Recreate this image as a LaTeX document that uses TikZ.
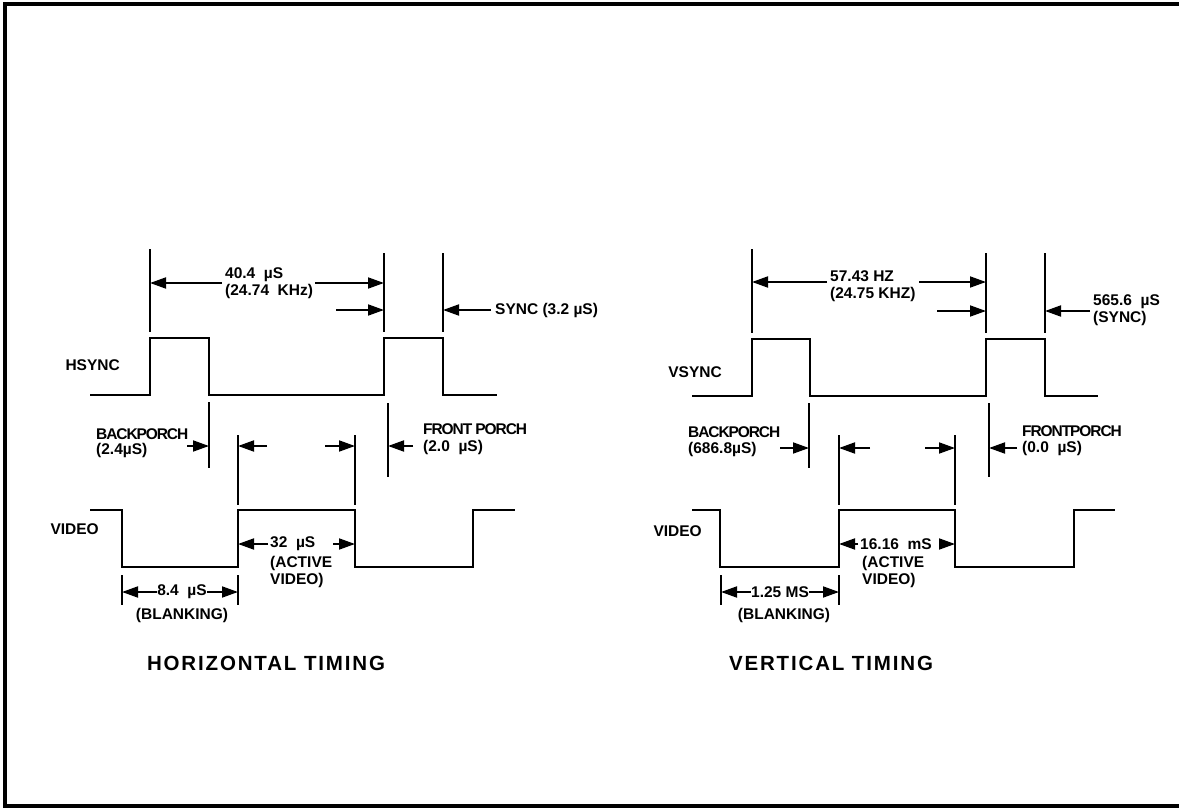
\documentclass[tikz,border=0pt]{standalone}
\usepackage{fontspec}
\setmainfont{Liberation Sans}
\newfontfamily\tightfont[LetterSpace=-7.0]{Liberation Sans}
\newfontfamily\titlefont[LetterSpace=9.0]{Liberation Sans}
\usetikzlibrary{arrows.meta}
\usetikzlibrary{calc}

\tikzset{
	wave/.style={line width=2pt},
	tick/.style={line width=1.8pt},
	dim/.style={line width=1.8pt,-{Triangle[length=16pt,width=11pt]}},
	lbl/.style={font=\fontsize{15.5}{17}\selectfont\bfseries,inner sep=0pt,align=left},
	tlbl/.style={font=\tightfont\fontsize{15.5}{17}\selectfont\bfseries,inner sep=0pt},
	ttl/.style={font=\titlefont\fontsize{20.5}{23}\selectfont\bfseries,inner sep=0pt},
}

\begin{document}
\begin{tikzpicture}[x=1pt,y=-1pt]
	\useasboundingbox (0,0) rectangle (1179,808);
	\draw[line width=3.5pt] (1179,4) -- (5,4) -- (5,806) -- (1179,806);
	% horizontal timing
	\draw[wave] (90,395) -- (150,395) -- (150,338) -- (209,338) -- (209,395) -- (384,395) -- (384,338) -- (443,338) -- (443,395) -- (497,395);
	\draw[wave] (90,510) -- (122,510) -- (122,567) -- (238,567) -- (238,510) -- (355,510) -- (355,567) -- (473,567) -- (473,510) -- (515,510);
	\draw[tick] (150,249) coordinate (hA) -- (150,332);
	\draw[tick] (384,253) coordinate (hB) -- (384,332);
	\draw[tick] (443,253) coordinate (hC) -- (443,332);
	\draw[tick] (209,402) coordinate (hD) -- (209,468);
	\draw[tick] (238,435) coordinate (hE) -- (238,505);
	\draw[tick] (355,435) coordinate (hF) -- (355,505);
	\draw[tick] (388,403) coordinate (hG) -- (388,477);
	\draw[tick] (122,575) coordinate (hJ) -- (122,605);
	\draw[tick] (238,575) coordinate (hK) -- (238,605);
	\node[lbl,anchor=east] (hsl) at (120,365) {HSYNC};
	\node[lbl,anchor=east] (hvl) at (99,529) {VIDEO};
	\node[lbl,anchor=west] (hper) at (225,283) {40.4\ \ µS\\(24.74\ \ KHz)};
	\draw[dim] ([xshift=-3pt]hper.west) -- (hper.west -| hA);
	\draw[dim] ([xshift=2pt]hper.east) -- (hper.east -| hB);
	\coordinate (hsA) at (336,310);
	\draw[dim] (hsA) -- (hsA -| hB);
	\node[lbl,anchor=west] (hsync) at (495,310) {SYNC (3.2 µS)};
	\draw[dim] ([xshift=-4pt]hsync.west) -- (hsync.west -| hC);
	\node[tlbl,anchor=west] (hbp) at (96,434) {BACKPORCH};
	\node[lbl,anchor=west] (hbpv) at (96,450) {(2.4µS)};
	\node[tlbl,anchor=west] (hfp) at (423,429) {FRONT PORCH};
	\node[lbl,anchor=west] (hfpv) at (423,447) {(2.0\ \ µS)};
	\coordinate (hm1) at (187,446);
	\coordinate (hm2) at (267,446);
	\coordinate (hm3) at (325,446);
	\coordinate (hm4) at (413,446);
	\draw[dim] (hm1) -- (hm1 -| hD);
	\draw[dim] (hm2) -- (hm2 -| hE);
	\draw[dim] (hm3) -- (hm3 -| hF);
	\draw[dim] (hm4) -- (hm4 -| hG);
	\node[lbl,anchor=west] (hact) at (270,544) {32\ \ µS};
	\node[lbl,anchor=north west] (hactv) at (270,556) {(ACTIVE\\VIDEO)};
	\coordinate (hact2) at (333,544);
	\draw[dim] ([xshift=-2pt]hact.west) -- (hact.west -| hE);
	\draw[dim] (hact2) -- (hact2 -| hF);
	\node[lbl] (hbl) at (182,592) {8.4\ \ µS};
	\node[lbl] (hblv) at (182,615) {(BLANKING)};
	\draw[dim] (hbl.west) -- (hbl.west -| hJ);
	\draw[dim] (hbl.east) -- (hbl.east -| hK);
	\node[ttl] (htitle) at (266,663) {HORIZONTAL TIMING};
	% vertical timing
	\draw[wave] (692,396) -- (752,396) -- (752,339) -- (810,339) -- (810,396) -- (986,396) -- (986,339) -- (1045,339) -- (1045,396) -- (1098,396);
	\draw[wave] (692,510) -- (720,510) -- (720,567) -- (839,567) -- (839,510) -- (955,510) -- (955,567) -- (1074,567) -- (1074,510) -- (1115,510);
	\draw[tick] (752,249) coordinate (vA) -- (752,333);
	\draw[tick] (986,253) coordinate (vB) -- (986,333);
	\draw[tick] (1045,253) coordinate (vC) -- (1045,333);
	\draw[tick] (809,403) coordinate (vD) -- (809,468);
	\draw[tick] (839,435) coordinate (vE) -- (839,505);
	\draw[tick] (955,435) coordinate (vF) -- (955,505);
	\draw[tick] (989,403) coordinate (vG) -- (989,477);
	\draw[tick] (721,575) coordinate (vJ) -- (721,605);
	\draw[tick] (839,575) coordinate (vK) -- (839,605);
	\node[lbl,anchor=east] (vsl) at (722,372) {VSYNC};
	\node[lbl,anchor=east] (vvl) at (702,531) {VIDEO};
	\node[lbl,anchor=west] (vper) at (830,286) {57.43 HZ\\(24.75 KHZ)};
	\coordinate (vp1) at (827,282);
	\coordinate (vp2) at (919,282);
	\coordinate (vsA) at (937,311);
	\draw[dim] (vp1) -- (vp1 -| vA);
	\draw[dim] (vp2) -- (vp2 -| vB);
	\draw[dim] (vsA) -- (vsA -| vB);
	\node[lbl,anchor=west] (vsync) at (1093,310) {565.6\ \ µS\\(SYNC)};
	\coordinate (vsB) at (1090,311);
	\draw[dim] (vsB) -- (vsB -| vC);
	\node[tlbl,anchor=west] (vbp) at (688,432) {BACKPORCH};
	\node[lbl,anchor=west] (vbpv) at (688,449) {(686.8µS)};
	\node[tlbl,anchor=west] (vfp) at (1022,431) {FRONTPORCH};
	\node[lbl,anchor=west] (vfpv) at (1022,448) {(0.0\ \ µS)};
	\coordinate (vm1) at (780,448);
	\coordinate (vm2) at (870,448);
	\coordinate (vm3) at (925,448);
	\coordinate (vm4) at (1017,448);
	\draw[dim] (vm1) -- (vm1 -| vD);
	\draw[dim] (vm2) -- (vm2 -| vE);
	\draw[dim] (vm3) -- (vm3 -| vF);
	\draw[dim] (vm4) -- (vm4 -| vG);
	\node[lbl,anchor=west] (vact) at (860,544) {16.16\ \ mS};
	\node[lbl,anchor=north west] (vactv) at (862,556) {(ACTIVE\\VIDEO)};
	\coordinate (vact2) at (940,544);
	\draw[dim] ([xshift=-2pt]vact.west) -- (vact.west -| vE);
	\draw[dim] (vact2) -- (vact2 -| vF);
	\node[lbl] (vbl) at (780,592) {1.25 MS};
	\node[lbl] (vblv) at (784,615) {(BLANKING)};
	\draw[dim] (vbl.west) -- (vbl.west -| vJ);
	\draw[dim] (vbl.east) -- (vbl.east -| vK);
	\node[ttl] (vtitle) at (831,663) {VERTICAL TIMING};
\end{tikzpicture}
\end{document}
